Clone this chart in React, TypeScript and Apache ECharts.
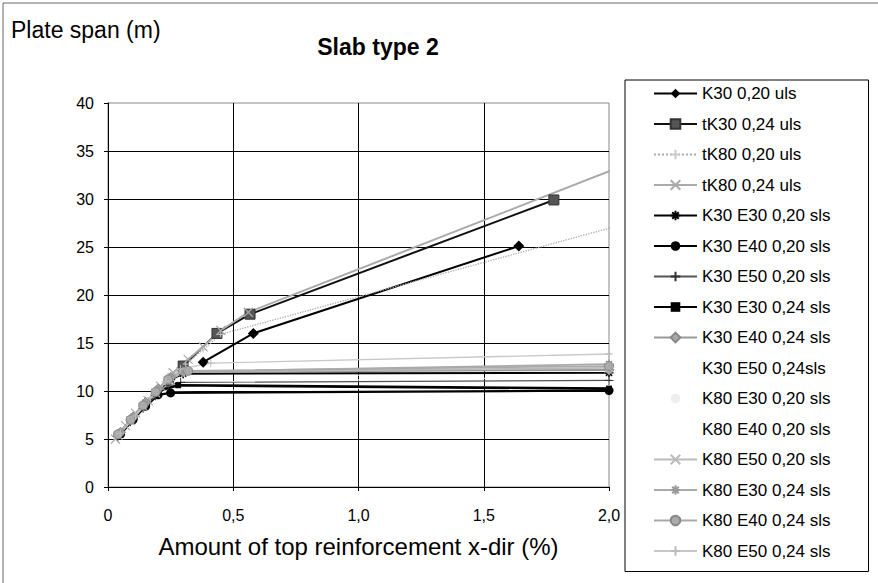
import React, { useEffect, useRef } from "react";
import * as echarts from "echarts";

// ---------- texts ----------
const chartTitle = "Slab type 2";
const yTitle = "Plate span (m)";
const xTitle = "Amount of top reinforcement x-dir (%)";
const xTickLabels = ["0", "0,5", "1,0", "1,5", "2,0"];

// ---------- series values [x (%), span (m)] ----------
const k30_020_uls = [[0.38, 13.0], [0.58, 16.0], [1.64, 25.1]];
const tk30_024_uls = [[0.3, 12.6], [0.435, 16.0], [0.567, 18.0], [1.78, 29.9]];
const tk80_020_uls = [[0.04, 5.4], [0.09, 7.0], [0.14, 8.4], [0.19, 9.8], [0.25, 11.4], [0.31, 12.8], [0.38, 14.3], [0.45, 15.9], [3.1, 34.8]];
const tk80_024_uls = [[0.03, 5.0], [0.07, 6.4], [0.11, 7.7], [0.16, 9.0], [0.21, 10.5], [0.26, 11.9], [0.32, 13.3], [0.38, 14.6], [0.45, 16.3], [0.56, 18.2], [2.6, 39.0]];
const k30e30_020_sls = [[0.05, 5.6], [0.1, 7.1], [0.15, 8.6], [0.2, 10.0], [0.25, 11.2], [0.3, 11.8], [2.0, 11.9], [2.4, 11.95]];
const k30e40_020_sls = [[0.05, 5.5], [0.1, 7.0], [0.15, 8.4], [0.2, 9.6], [0.25, 9.8], [2.0, 10.05], [2.4, 10.1]];
const k30e50_020_sls = [[0.04, 5.3], [0.09, 6.8], [0.14, 8.2], [0.19, 9.5], [0.24, 10.6], [0.29, 10.9], [2.0, 11.1], [2.4, 11.15]];
const k30e30_024_sls = [[0.05, 5.6], [0.1, 7.2], [0.15, 8.7], [0.2, 10.0], [0.28, 10.6], [2.0, 10.25], [2.4, 10.2]];
const k30e40_024_sls = [[0.05, 5.7], [0.1, 7.3], [0.15, 8.8], [0.2, 10.2], [0.25, 11.4], [0.3, 12.0], [2.0, 12.2], [2.4, 12.25]];
const k30e50_024_sls = [[0.06, 6.0], [0.12, 7.9], [0.17, 9.3], [0.22, 10.0], [2.0, 10.6]];
const k80e30_020_sls = [[0.04, 5.2], [0.09, 6.9], [0.14, 8.3], [0.19, 9.7], [0.24, 10.9], [2.0, 11.5]];
const k80e40_020_sls = [[0.05, 5.5], [0.1, 7.1], [0.16, 8.9], [0.22, 10.6], [2.0, 13.0]];
const k80e50_020_sls = [[0.04, 5.4], [0.09, 6.9], [0.14, 8.4], [0.19, 9.8], [0.24, 11.1], [0.29, 12.0], [2.0, 12.4], [2.4, 12.45]];
const k80e30_024_sls = [[0.05, 5.7], [0.1, 7.3], [0.15, 8.8], [0.2, 10.2], [0.25, 11.5], [0.3, 12.0], [2.0, 12.8], [2.4, 12.9]];
const k80e40_024_sls = [[0.04, 5.5], [0.09, 7.0], [0.14, 8.5], [0.19, 9.9], [0.24, 11.2], [0.32, 12.1], [2.0, 12.6], [2.4, 12.65]];
const k80e50_024_sls = [[0.05, 5.6], [0.11, 7.4], [0.17, 9.3], [0.23, 11.0], [0.29, 12.3], [0.41, 12.9], [2.0, 13.85], [2.4, 14.05]];

const seriesNames = [
  "K30 0,20 uls",
  "tK30 0,24 uls",
  "tK80 0,20 uls",
  "tK80 0,24 uls",
  "K30 E30 0,20 sls",
  "K30 E40 0,20 sls",
  "K30 E50 0,20 sls",
  "K30 E30 0,24 sls",
  "K30 E40 0,24 sls",
  "K30 E50 0,24sls",
  "K80 E30 0,20 sls",
  "K80 E40 0,20 sls",
  "K80 E50 0,20 sls",
  "K80 E30 0,24 sls",
  "K80 E40 0,24 sls",
  "K80 E50 0,24 sls",
];
const seriesValues = [
  k30_020_uls, tk30_024_uls, tk80_020_uls, tk80_024_uls,
  k30e30_020_sls, k30e40_020_sls, k30e50_020_sls, k30e30_024_sls,
  k30e40_024_sls, k30e50_024_sls, k80e30_020_sls, k80e40_020_sls,
  k80e50_020_sls, k80e30_024_sls, k80e40_024_sls, k80e50_024_sls,
];

// ---------- styles ----------
const ASTER = "path://M5,0L5,10M0,5L10,5M1.6,1.6L8.4,8.4M8.4,1.6L1.6,8.4";
const CROSS = "path://M0,0L10,10M10,0L0,10";
const PLUS = "path://M5,0L5,10M0,5L10,5";

type Sty = { line: string; w: number; type?: string; symbol: string; size: number; fill: string; stroke: string; bw: number; z?: number };
const styles: Sty[] = [
  { line: "#000", w: 2, symbol: "diamond", size: 11, fill: "#000", stroke: "#000", bw: 0 },
  { line: "#111", w: 2, symbol: "rect", size: 10, fill: "#555", stroke: "#333", bw: 1 },
  { line: "#aaa", w: 1.3, type: "dotted", symbol: PLUS, size: 6, fill: "#ccc", stroke: "#ccc", bw: 1 },
  { line: "#aaa", w: 2, symbol: CROSS, size: 9, fill: "#aaa", stroke: "#aaa", bw: 1.2 },
  { line: "#000", w: 2, symbol: ASTER, size: 9, fill: "#000", stroke: "#000", bw: 1.6 },
  { line: "#000", w: 2.2, symbol: "circle", size: 9, fill: "#000", stroke: "#000", bw: 0 },
  { line: "#555", w: 1.2, symbol: PLUS, size: 9, fill: "#333", stroke: "#333", bw: 1 },
  { line: "#000", w: 2.6, symbol: "rect", size: 6, fill: "#000", stroke: "#000", bw: 0 },
  { line: "#999", w: 2, symbol: "diamond", size: 10, fill: "#aaa", stroke: "#888", bw: 1 },
  { line: "#fff", w: 1, symbol: "rect", size: 7, fill: "#fff", stroke: "#fff", bw: 0, z: 1 },
  { line: "#fff", w: 1, symbol: "circle", size: 2, fill: "#eee", stroke: "#eee", bw: 0, z: 1 },
  { line: "#fff", w: 1, symbol: "none", size: 2, fill: "#fff", stroke: "#fff", bw: 0, z: 1 },
  { line: "#bbb", w: 1.8, symbol: CROSS, size: 9, fill: "#bbb", stroke: "#bbb", bw: 1.2 },
  { line: "#aaa", w: 1.8, symbol: ASTER, size: 9, fill: "#999", stroke: "#999", bw: 1.4 },
  { line: "#aaa", w: 1.8, symbol: "circle", size: 9, fill: "#aaa", stroke: "#888", bw: 1 },
  { line: "#c8c8c8", w: 1.4, symbol: PLUS, size: 8, fill: "#bbb", stroke: "#bbb", bw: 1 },
];

const FONT = "'Liberation Sans', Arial, sans-serif";

export default function App() {
  const ref = useRef<HTMLDivElement>(null);
  useEffect(() => {
    document.body.style.margin = "0";
    const chart = echarts.init(ref.current!, null, { renderer: "svg" });
    const series = seriesNames.map((name, i) => {
      const s = styles[i];
      return {
        type: "line",
        name,
        data: seriesValues[i],
        clip: false,
        z: s.z ?? 2,
        symbol: s.symbol,
        symbolSize: s.size,
        showSymbol: s.symbol !== "none",
        lineStyle: { color: s.line, width: s.w, type: s.type ?? "solid" },
        itemStyle: { color: s.fill, borderColor: s.stroke, borderWidth: s.bw },
        emphasis: { disabled: true },
      };
    });
    chart.setOption({
      animation: false,
      backgroundColor: "#fff",
      textStyle: { fontFamily: FONT },
      grid: { left: 108, top: 103, width: 501, height: 384, show: true, borderColor: "#888", borderWidth: 1, backgroundColor: "transparent" },
      xAxis: {
        type: "value",
        min: 0,
        max: 2,
        interval: 0.5,
        name: xTitle,
        nameLocation: "middle",
        nameGap: 47,
        nameTextStyle: { fontSize: 24, color: "#000", fontFamily: FONT },
        axisLine: { show: true, lineStyle: { color: "#000", width: 1 } },
        axisTick: { show: true, inside: false, length: 4, lineStyle: { color: "#000" } },
        axisLabel: { fontSize: 16, color: "#000", margin: 20, fontFamily: FONT, formatter: (v: number) => xTickLabels[Math.round(v / 0.5)] ?? "" },
        splitLine: { show: true, showMaxLine: false, lineStyle: { color: "#000", width: 1 } },
      },
      yAxis: {
        type: "value",
        min: 0,
        max: 40,
        interval: 5,
        axisLine: { show: true, lineStyle: { color: "#000", width: 1 } },
        axisTick: { show: true, inside: false, length: 4, lineStyle: { color: "#000" } },
        axisLabel: { fontSize: 16, color: "#000", margin: 14, fontFamily: FONT },
        splitLine: { show: true, showMaxLine: false, lineStyle: { color: "#000", width: 1 } },
      },
      legend: {
        orient: "vertical",
        left: 625,
        top: 80,
        height: 500,
        data: seriesNames,
        itemWidth: 43,
        itemHeight: 12,
        itemGap: 13.5,
        padding: [5, 38, 12, 28],
        backgroundColor: "#fff",
        borderColor: "#000",
        borderWidth: 1,
        selectedMode: false,
        textStyle: { fontSize: 17, color: "#000", fontFamily: FONT },
      },
      graphic: [
        { type: "rect", shape: { x: 3, y: 3, width: 900, height: 620 }, style: { fill: "none", stroke: "#666", lineWidth: 1 }, silent: true },
        { type: "text", x: 11, y: 30, style: { text: yTitle, font: `23px ${FONT}`, fill: "#000", textVerticalAlign: "middle" } },
        { type: "text", x: 378, y: 47, style: { text: chartTitle, font: `bold 23px ${FONT}`, fill: "#000", textAlign: "center", textVerticalAlign: "middle" } },
      ],
      series,
    });
    return () => chart.dispose();
  }, []);
  return <div ref={ref} style={{ position: "fixed", left: 0, top: 0, width: 878, height: 583 }} />;
}
